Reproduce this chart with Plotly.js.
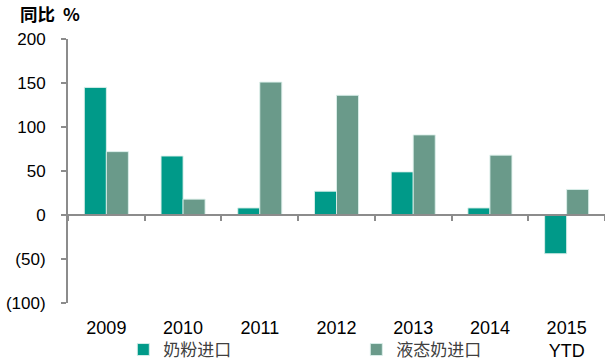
<!DOCTYPE html>
<html>
<head>
<meta charset="utf-8">
<script src="https://cdn.plot.ly/plotly-3.0.1.min.js"></script>
<style>html,body{margin:0;padding:0;background:#fff;}#chart{width:605px;height:362px;}</style>
</head>
<body>
<div id="chart"></div>
<script>
var categories = ['2009', '2010', '2011', '2012', '2013', '2014', '2015<br>YTD'];
var milkPowder = [145, 67, 8, 27, 49, 8, -44];
var liquidMilk = [72, 18, 151, 136, 91, 68, 29];
var seriesNames = ['奶粉进口', '液态奶进口'];
var yTickVals = [200, 150, 100, 50, 0, -50, -100];
var yTickText = ['200', '150', '100', '50', '0', '(50)', '(100)'];

var FONT = '"Liberation Sans", Arial, "Noto Sans CJK SC", sans-serif';
var AXC = '#8c8c8c';

var traces = [
  {type: 'bar', name: seriesNames[0], x: categories, y: milkPowder,
   marker: {color: '#009A89', line: {color: 'rgba(220,240,235,0.9)', width: 1}}, hoverinfo: 'x+y'},
  {type: 'bar', name: seriesNames[1], x: categories, y: liquidMilk,
   marker: {color: '#6A9A8A', line: {color: 'rgba(220,240,235,0.9)', width: 1}}, hoverinfo: 'x+y'},
  {type: 'scatter', mode: 'markers', x: categories, y: categories.map(function(){return null;}),
   xaxis: 'x2', yaxis: 'y', showlegend: false, hoverinfo: 'skip'}
];

var layout = {
  width: 605, height: 362,
  margin: {l: 68, r: 0, t: 39, b: 59, autoexpand: false},
  paper_bgcolor: '#fff', plot_bgcolor: '#fff',
  font: {family: FONT, size: 17, color: '#000'},
  barmode: 'group', bargap: 0.426, bargroupgap: 0,
  showlegend: true,
  title: {text: '<b>同比  %</b>', x: 20/605, xanchor: 'left', xref: 'container',
          y: 1 - 15/362, yanchor: 'middle', yref: 'container', automargin: false,
          font: {family: '"Noto Sans CJK SC", "Liberation Sans", sans-serif', size: 17.5, color: '#000'}},
  xaxis: {type: 'category', showline: false, ticks: '', showgrid: false, zeroline: false, automargin: false,
          tickfont: {size: 18, color: '#000'}, ticklabelstandoff: 12, fixedrange: true},
  xaxis2: {type: 'category', overlaying: 'x', anchor: 'free', position: 1/3, side: 'bottom',
           showline: true, linecolor: AXC, linewidth: 2, ticks: 'outside', tickson: 'boundaries',
           ticklen: 5, tickwidth: 2, tickcolor: AXC, showticklabels: false, showgrid: false,
           zeroline: false, matches: 'x', automargin: false},
  yaxis: {range: [-100, 200], tickmode: 'array', tickvals: yTickVals, ticktext: yTickText,
          showline: true, linecolor: AXC, linewidth: 2, ticks: 'outside', ticklen: 5, automargin: false,
          tickwidth: 2, tickcolor: AXC, showgrid: false, zeroline: false,
          tickfont: {size: 17, color: '#000'}, ticklabelstandoff: 12, fixedrange: true},
  legend: {orientation: 'h', x: 0.103, xanchor: 'left', y: -0.178, yanchor: 'middle',
           font: {size: 17, color: '#404040', family: '"Noto Sans CJK SC", sans-serif'},
           entrywidth: 188, entrywidthmode: 'pixels', bgcolor: 'rgba(0,0,0,0)', traceorder: 'normal'}
};

Plotly.newPlot('chart', traces, layout, {staticPlot: true, displayModeBar: false});
</script>
</body>
</html>
